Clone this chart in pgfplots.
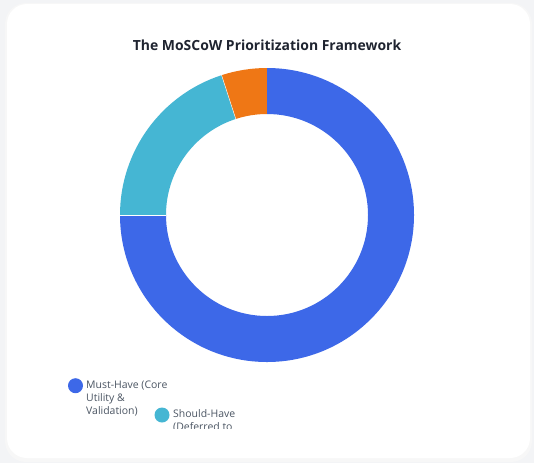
\documentclass[border=0pt]{standalone}
\usepackage{pgfplots}
\pgfplotsset{compat=1.18}
\usepackage{pgfplotstable}
\usepackage{fontspec}
\setmainfont{Open Sans}
\definecolor{mustc}{HTML}{3D68E8}
\definecolor{shouldc}{HTML}{45B6D3}
\definecolor{couldc}{HTML}{EF7715}
\definecolor{titlec}{HTML}{1F2430}
\definecolor{legc}{HTML}{4B5563}
\definecolor{bgc}{HTML}{F3F4F6}
\pgfplotstableread{
label value
Must 75
Should 20
Could 5
}\data
\begin{document}%
\begin{tikzpicture}
\pgfplotstablegetelem{0}{value}\of\data \let\vA\pgfplotsretval
\pgfplotstablegetelem{1}{value}\of\data \let\vB\pgfplotsretval
\pgfplotstablegetelem{2}{value}\of\data \let\vC\pgfplotsretval
\pgfmathsetmacro\tot{\vA+\vB+\vC}
\pgfmathsetmacro\aA{90}
\pgfmathsetmacro\aB{\aA-\vA/\tot*360}
\pgfmathsetmacro\aC{\aB-\vB/\tot*360}
\pgfmathsetmacro\aD{\aC-\vC/\tot*360}
\begin{axis}[
  x=1bp, y=1bp, scale only axis,
  xmin=0, xmax=534, ymin=0, ymax=463, y dir=reverse,
  hide axis, clip=false, anchor=origin,
]
\addplot[draw=none] coordinates {(267,215)};
% background and card
\fill[bgc] (axis cs:0,0) rectangle (axis cs:534,463);
\fill[black!5, rounded corners=21bp] (axis cs:6,4) rectangle (axis cs:531,461);
\fill[black!3, rounded corners=21bp] (axis cs:5,3) rectangle (axis cs:532,462);
\fill[white, rounded corners=20bp] (axis cs:7,4) rectangle (axis cs:530,458);
% donut slices
\fill[mustc] (axis cs:267,215) ++(\aA:147bp) arc[start angle=\aA, end angle=\aB, radius=147bp] -- ++(\aB:-46bp) arc[start angle=\aB, end angle=\aA, radius=101bp] -- cycle;
\fill[shouldc] (axis cs:267,215) ++(\aB:147bp) arc[start angle=\aB, end angle=\aC, radius=147bp] -- ++(\aC:-46bp) arc[start angle=\aC, end angle=\aB, radius=101bp] -- cycle;
\fill[couldc] (axis cs:267,215) ++(\aC:147bp) arc[start angle=\aC, end angle=\aD, radius=147bp] -- ++(\aD:-46bp) arc[start angle=\aD, end angle=\aC, radius=101bp] -- cycle;
\draw[white, line width=0.4bp] (axis cs:267,215) ++(\aB:101bp) -- ++(\aB:46bp);
\draw[white, line width=0.4bp] (axis cs:267,215) ++(\aC:101bp) -- ++(\aC:46bp);
% title
\node[font=\fontsize{14}{17}\selectfont\bfseries, text=titlec] at (axis cs:267,45) {The MoSCoW Prioritization Framework};
% legend
\begin{scope}
\clip (axis cs:60,372) rectangle (axis cs:260,428.8);
\fill[mustc] (axis cs:75.5,385.7) circle[radius=7.5bp];
\node[anchor=west, font=\fontsize{10.5}{13}\selectfont, text=legc, inner sep=0pt] at (axis cs:86,385.6) {Must-Have (Core};
\node[anchor=west, font=\fontsize{10.5}{13}\selectfont, text=legc, inner sep=0pt] at (axis cs:86,399) {Utility \&};
\node[anchor=west, font=\fontsize{10.5}{13}\selectfont, text=legc, inner sep=0pt] at (axis cs:86,411.7) {Validation)};
\fill[shouldc] (axis cs:162,415) circle[radius=7.5bp];
\node[anchor=west, font=\fontsize{10.5}{13}\selectfont, text=legc, inner sep=0pt] at (axis cs:173,414) {Should-Have};
\node[anchor=west, font=\fontsize{10.5}{13}\selectfont, text=legc, inner sep=0pt] at (axis cs:173,427.5) {(Deferred to};
\end{scope}
\end{axis}
\pgfresetboundingbox
\useasboundingbox (current axis.south west) rectangle (current axis.north east);
\end{tikzpicture}%
\end{document}
